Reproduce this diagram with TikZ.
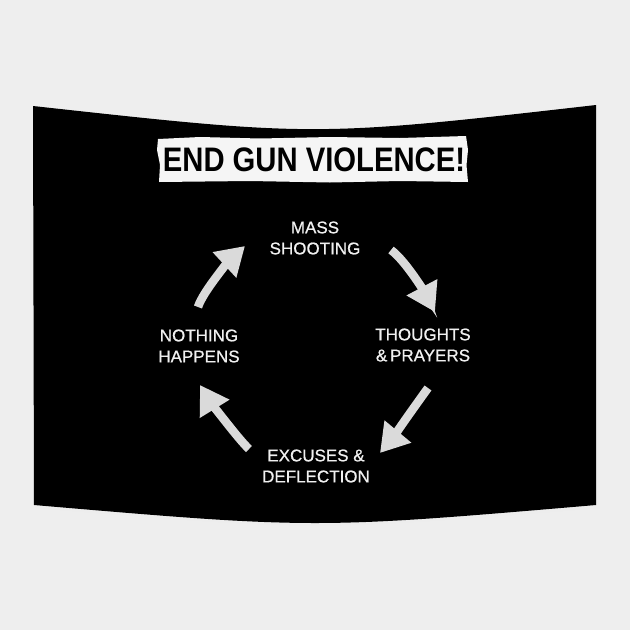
\documentclass[tikz,border=0pt]{standalone}
\usepackage{fontspec}
\setmainfont{Liberation Sans}
\newfontfamily\lblfont[FakeBold=0.7]{Liberation Sans}
\usetikzlibrary{arrows.meta}
\definecolor{bgcol}{HTML}{EEEEEE}
\definecolor{arrcol}{HTML}{DADADA}
\definecolor{txtcol}{HTML}{F0F0F0}
\tikzset{
  lbl/.style={text=txtcol, align=center, font=\lblfont\fontsize{17}{21}\selectfont, inner sep=0pt},
  cyc/.style={draw=arrcol, line width=8.5pt, -{Triangle[width=33pt,length=28pt]}},
}
\begin{document}
\begin{tikzpicture}[x=1pt,y=-1pt]
\fill[bgcol] (0,0) rectangle (630,630);
\useasboundingbox (0,0) rectangle (630,630);
% soft shadow
\fill[black!7] (35,108) .. controls (315,139) .. (598,107) -- (599,508) .. controls (315,531) .. (36,508) -- cycle;
% tapestry
\fill[black] (33,106) .. controls (315,137) .. (596,105) -- (596,505) .. controls (315,529) .. (34,505) -- cycle;
% title strip
\fill[white!96!black] (158,139) -- (200,137) -- (260,138.5) -- (330,137) -- (400,138) -- (466,136) -- (468,150) -- (466.5,165) -- (468,182) -- (400,181) -- (330,182.5) -- (250,181) -- (159,182) -- (160,165) -- (157,150) -- cycle;
\node[inner sep=0pt, text=black] (title) at (314,160) {\scalebox{0.86}[1]{\fontsize{34}{36}\selectfont\bfseries END GUN VIOLENCE!}};
% labels
\node[lbl] (mass) at (315,238) {MASS\\SHOOTING};
\node[lbl] (thoughts) at (423,345) {THOUGHTS\\\&\,PRAYERS};
\node[lbl] (excuses) at (316,466) {EXCUSES \&\\DEFLECTION};
\node[lbl] (nothing) at (199,346) {NOTHING\\HAPPENS};
% arrows
\coordinate (a1s) at (391,250); \coordinate (a1e) at (435,312);
\coordinate (a2s) at (428,388); \coordinate (a2e) at (380,453);
\coordinate (a3s) at (249,449); \coordinate (a3e) at (200,385);
\coordinate (a4s) at (198,307); \coordinate (a4e) at (245,246);
\draw[cyc] (a1s) .. controls (406,261) and (426,295) .. (a1e);
\draw[cyc] (a2s) .. controls (420,399) and (390,441) .. (a2e);
\draw[cyc] (a3s) .. controls (238,439) and (208,398) .. (a3e);
\draw[cyc] (a4s) .. controls (203,291) and (232,258) .. (a4e);
\end{tikzpicture}
\end{document}
